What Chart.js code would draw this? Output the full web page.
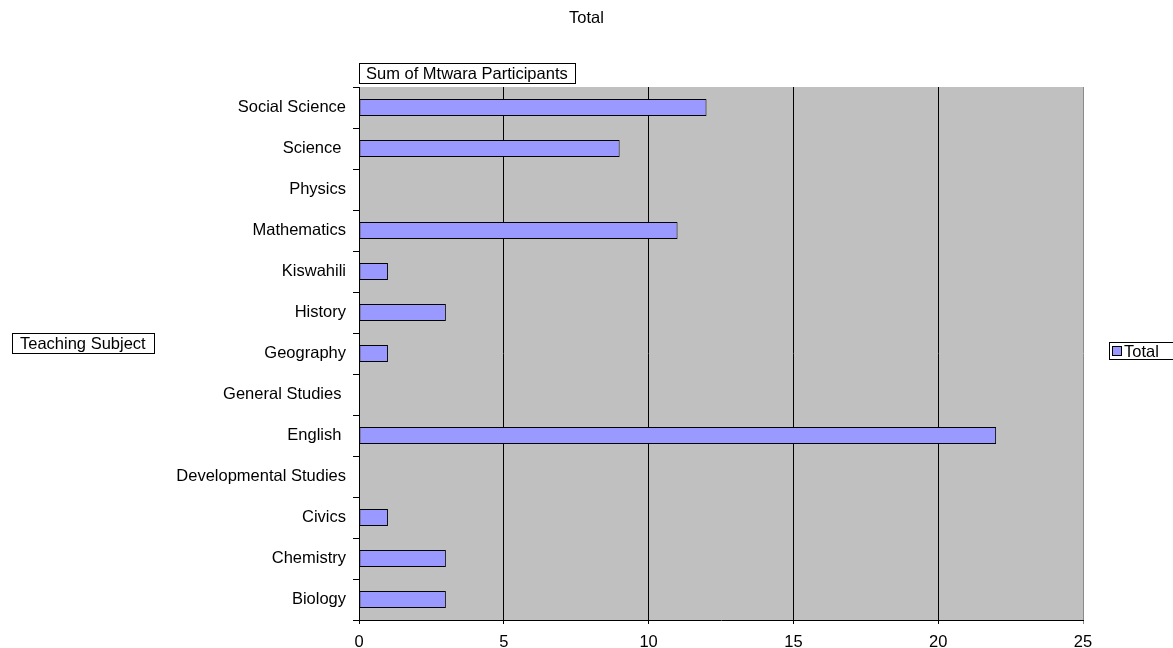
<!DOCTYPE html>
<html>
<head>
<meta charset="utf-8">
<title>Total</title>
<script src="https://cdn.jsdelivr.net/npm/chart.js@4/dist/chart.umd.min.js"></script>
<style>
    html, body { margin: 0; padding: 0; background: #fff; }
    canvas { display: block; }
</style>
</head>
<body>
<canvas id="subjectChart" width="1173" height="648"></canvas>
<script>
// Mtwara participants per teaching subject (top row first)
const subjects = [
    'Social Science', 'Science ', 'Physics', 'Mathematics', 'Kiswahili', 'History',
    'Geography', 'General Studies ', 'English ', 'Developmental Studies', 'Civics',
    'Chemistry', 'Biology'
];
const totals = [12, 9, 0, 11, 1, 3, 1, 0, 22, 0, 1, 3, 3];
const xTicks = [0, 5, 10, 15, 20, 25];

const seriesName = 'Total';
const chartTitle = 'Total';
const dataFieldLabel = 'Sum of Mtwara Participants';
const rowFieldLabel = 'Teaching Subject';

const FONT = '"Liberation Sans", Arial, sans-serif';
const FONT_SIZE = 16.5;
const BAR_FILL = '#9999ff';

function boxedText(ctx, text, x, y, padX, h) {
    ctx.font = FONT_SIZE + 'px ' + FONT;
    const w = Math.round(ctx.measureText(text).width + padX * 2);
    ctx.fillStyle = '#fff';
    ctx.fillRect(x, y, w, h);
    ctx.strokeStyle = '#000';
    ctx.lineWidth = 1;
    ctx.strokeRect(x + 0.5, y + 0.5, w, h);
    ctx.fillStyle = '#000';
    ctx.textBaseline = 'middle';
    ctx.textAlign = 'left';
    ctx.fillText(text, x + padX, y + h / 2 + 1);
}

// grey plot background plus the pivot field buttons, title and legend
const pivotDecor = {
    id: 'pivotDecor',
    beforeDraw(chart) {
        const { ctx, chartArea: a } = chart;
        ctx.save();
        ctx.fillStyle = '#c0c0c0';
        ctx.fillRect(a.left, a.top, a.right - a.left, a.bottom - a.top);
        ctx.restore();
    },
    afterDraw(chart) {
        const { ctx, chartArea: a } = chart;
        ctx.save();
        ctx.font = FONT_SIZE + 'px ' + FONT;
        ctx.fillStyle = '#000';
        ctx.textAlign = 'center';
        ctx.textBaseline = 'middle';
        ctx.fillText(chartTitle, chart.width / 2, 18);

        boxedText(ctx, dataFieldLabel, a.left, 63, 7, 20);
        boxedText(ctx, rowFieldLabel, 12, 333, 8, 20);

        // legend
        const lx = 1109, ly = 342;
        ctx.fillStyle = '#fff';
        ctx.fillRect(lx, ly, 70, 17);
        ctx.strokeStyle = '#000';
        ctx.strokeRect(lx + 0.5, ly + 0.5, 70, 17);
        ctx.fillStyle = BAR_FILL;
        ctx.fillRect(lx + 4, ly + 5, 8, 8);
        ctx.strokeRect(lx + 3.5, ly + 4.5, 9, 9);
        ctx.fillStyle = '#000';
        ctx.textAlign = 'left';
        ctx.fillText(seriesName, lx + 15, ly + 10);
        ctx.restore();
    }
};

const ctx = document.getElementById('subjectChart').getContext('2d');
new Chart(ctx, {
    type: 'bar',
    data: {
        labels: subjects,
        datasets: [{
            label: seriesName,
            data: totals,
            backgroundColor: BAR_FILL,
            borderColor: '#000',
            borderWidth: 1,
            borderSkipped: false,
            barPercentage: 0.42,
            categoryPercentage: 1
        }]
    },
    options: {
        indexAxis: 'y',
        responsive: false,
        animation: false,
        layout: { padding: { top: 87, right: 90, left: 0, bottom: 0 } },
        scales: {
            x: {
                min: 0,
                max: 25,
                afterBuildTicks: scale => { scale.ticks = xTicks.map(v => ({ value: v })); },
                afterFit: scale => { scale.height = 28; },
                grid: {
                    color: c => (c.tick && c.tick.value === 25 ? '#8a8a8a' : '#000'),
                    lineWidth: 1,
                    tickLength: 4,
                    drawOnChartArea: true
                },
                border: { display: true, color: '#000', width: 1 },
                ticks: { color: '#000', font: { family: FONT, size: FONT_SIZE }, padding: 9, maxRotation: 0 }
            },
            y: {
                afterFit: scale => { scale.width = 359; },
                grid: {
                    offset: true,
                    drawOnChartArea: false,
                    color: '#000',
                    tickLength: 6
                },
                border: { display: true, color: '#000', width: 1 },
                ticks: { color: '#000', font: { family: FONT, size: FONT_SIZE }, padding: 7, autoSkip: false }
            }
        },
        plugins: {
            legend: { display: false },
            title: { display: false },
            tooltip: { enabled: false }
        }
    },
    plugins: [pivotDecor]
});
</script>
</body>
</html>
